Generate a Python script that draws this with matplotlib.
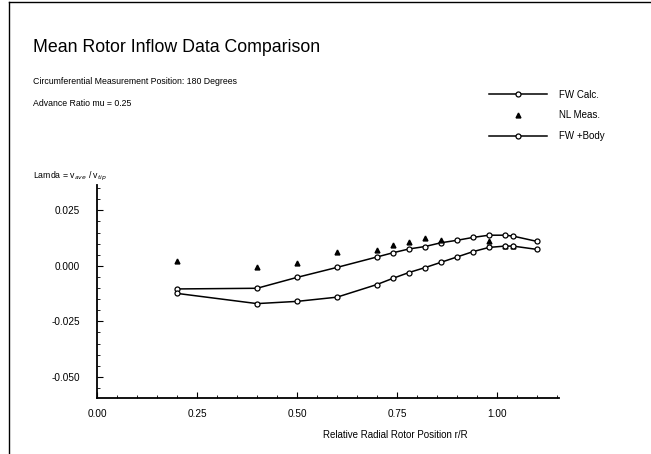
import matplotlib
matplotlib.use("Agg")
import matplotlib.pyplot as plt
from matplotlib.lines import Line2D
from matplotlib.ticker import MultipleLocator, FixedLocator

plt.rcParams['font.family'] = ['Liberation Sans', 'DejaVu Sans']

# Data
r_fw = [0.20, 0.40, 0.50, 0.60, 0.70, 0.74, 0.78, 0.82, 0.86, 0.90, 0.94, 0.98, 1.02, 1.04, 1.10]
fw_calc = [-0.0104, -0.0101, -0.0052, -0.0007, 0.0040, 0.0059, 0.0076, 0.0087, 0.0104, 0.0115, 0.0128, 0.0138, 0.0138, 0.0134, 0.0110]
fw_body = [-0.0124, -0.0170, -0.0160, -0.0141, -0.0084, -0.0056, -0.0030, -0.0008, 0.0016, 0.0040, 0.0064, 0.0083, 0.0089, 0.0089, 0.0074]
r_nl = [0.20, 0.40, 0.50, 0.60, 0.70, 0.74, 0.78, 0.82, 0.86, 0.98, 1.02, 1.04]
nl_meas = [0.0024, -0.0003, 0.0015, 0.0061, 0.0071, 0.0092, 0.0106, 0.0124, 0.0116, 0.0112, 0.0090, 0.0089]

x_ticks = [0.00, 0.25, 0.50, 0.75, 1.00]
x_tick_labels = ['0.00', '0.25', '0.50', '0.75', '1.00']
y_ticks = [-0.050, -0.025, 0.000, 0.025]
y_tick_labels = ['-0.050', '-0.025', '0.000', '0.025']

W, H = 651, 454
fig = plt.figure(figsize=(W / 100, H / 100), dpi=100)

ax = fig.add_axes([97 / W, 1 - 398 / H, (559 - 97) / W, (398 - 185) / H])
ax.set_xlim(0, 1.155)
ax.set_ylim(-0.0595, 0.0364)

ax.plot(r_fw, fw_calc, color='black', lw=1.1, marker='o', ms=3.6,
        mfc='white', mec='black', mew=0.9, label='FW Calc.')
ax.plot(r_nl, nl_meas, ls='none', marker='^', ms=3.5, color='black', label='NL Meas.')
ax.plot(r_fw, fw_body, color='black', lw=1.1, marker='o', ms=3.6,
        mfc='white', mec='black', mew=0.9, label='FW +Body')

for s in ['top', 'right']:
    ax.spines[s].set_visible(False)
for s in ['left', 'bottom']:
    ax.spines[s].set_linewidth(1.3)

ax.xaxis.set_major_locator(FixedLocator(x_ticks))
ax.set_xticklabels(x_tick_labels)
ax.yaxis.set_major_locator(FixedLocator(y_ticks))
ax.set_yticklabels(y_tick_labels)
ax.xaxis.set_minor_locator(MultipleLocator(0.05))
ax.yaxis.set_minor_locator(MultipleLocator(0.005))
ax.tick_params(which='major', direction='in', length=4, width=0.8, labelsize=7.2)
ax.tick_params(axis='x', which='major', pad=8)
ax.tick_params(axis='y', which='major', pad=12)
ax.tick_params(which='minor', direction='in', length=2, width=0.6)

# Titles and texts
fig.text(33 / W, 1 - 48 / H, 'Mean Rotor Inflow Data Comparison', fontsize=12.8,
         ha='left', va='center')
fig.text(33 / W, 1 - 81 / H, 'Circumferential Measurement Position: 180 Degrees',
         fontsize=6.3, ha='left', va='center')
fig.text(33 / W, 1 - 104 / H, 'Advance Ratio mu = 0.25', fontsize=6.3,
         ha='left', va='center')
fig.text(33 / W, 1 - 176 / H, r'Lamda = v$_{ave}$ / v$_{tip}$', fontsize=6.3,
         ha='left', va='center')
fig.text(395 / W, 1 - 435 / H, 'Relative Radial Rotor Position r/R', fontsize=7,
         ha='center', va='center')

# Legend
ax.legend(loc='upper left', bbox_to_anchor=(480 / W, 1 - 81 / H),
          bbox_transform=fig.transFigure, frameon=False, fontsize=7,
          handlelength=6.0, handletextpad=1.2, labelspacing=1.1, numpoints=1)

# Frame lines of the scanned page
fig.add_artist(Line2D([9 / W, 9 / W], [0, 1 - 2 / H], color='black', lw=1.0,
                      transform=fig.transFigure))
fig.add_artist(Line2D([9 / W, 1], [1 - 2 / H, 1 - 2 / H], color='black', lw=1.0,
                      transform=fig.transFigure))

fig.savefig('out.png', dpi=100)
